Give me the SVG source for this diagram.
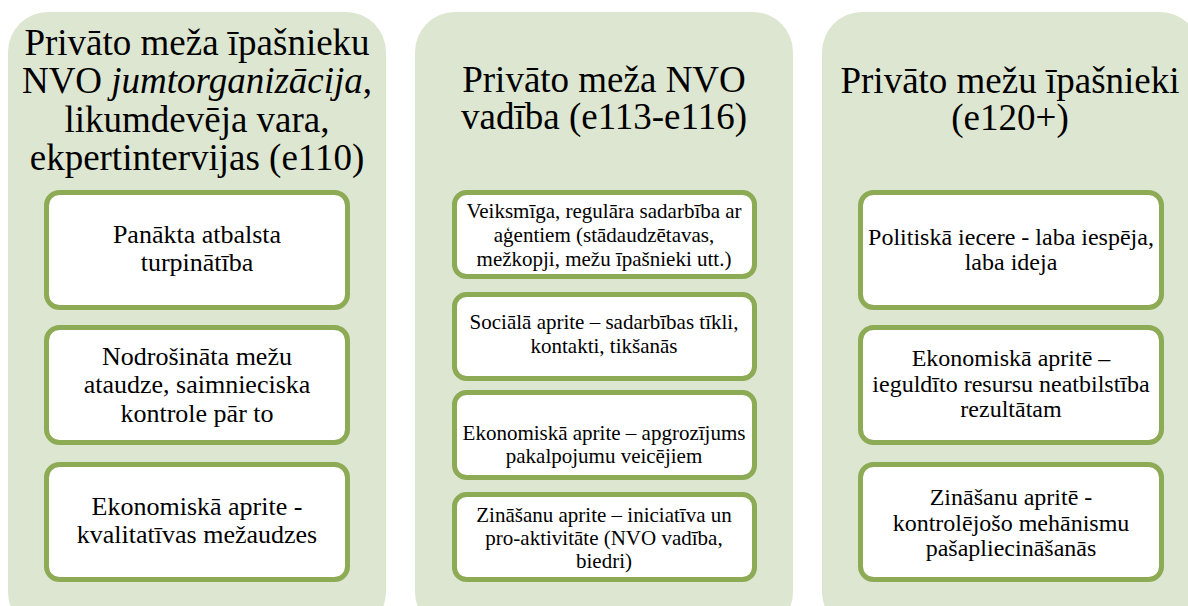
<svg xmlns="http://www.w3.org/2000/svg" width="1188" height="606" viewBox="0 0 1188 606">
<style>
.panel{fill:#DDE6D1;stroke:none}
.box{fill:#FFFFFF;stroke:#8DAA55;stroke-width:5}
.tx{fill:#000;text-anchor:middle}
.t{font-size:37px}
.b1{font-size:26px}
.b2{font-size:21px}
.b3{font-size:24px}
</style>
<rect width="1188" height="606" fill="#FFFFFF"/>
<g font-family="'Liberation Serif', 'Times New Roman', 'DejaVu Serif', serif" class="tx">
<g id="panel1">
<rect class="panel" x="8" y="12" width="378" height="620" rx="40"/>
<text class="t" x="197" y="55">Privāto meža īpašnieku</text>
<text class="t" x="197" y="93">NVO <tspan font-style="italic">jumtorganizācija</tspan>,</text>
<text class="t" x="197" y="132">likumdevēja vara,</text>
<text class="t" x="197" y="170">ekpertintervijas (e110)</text>
</g>
<g id="p1b1"><rect class="box" x="46.5" y="192.5" width="301" height="115" rx="13"/>
<text class="b1" x="197" y="243">Panākta atbalsta</text><text class="b1" x="197" y="271">turpinātība</text></g>
<g id="p1b2"><rect class="box" x="46.5" y="327.5" width="301" height="115" rx="13"/>
<text class="b1" x="197" y="365">Nodrošināta mežu</text><text class="b1" x="197" y="393">ataudze, saimnieciska</text><text class="b1" x="197" y="422">kontrole pār to</text></g>
<g id="p1b3"><rect class="box" x="46.5" y="464.5" width="301" height="115" rx="13"/>
<text class="b1" x="197" y="515">Ekonomiskā aprite -</text><text class="b1" x="197" y="543">kvalitatīvas mežaudzes</text></g>

<g id="panel2">
<rect class="panel" x="415" y="12" width="378" height="620" rx="40"/>
<text class="t" x="604" y="92">Privāto meža NVO</text>
<text class="t" x="604" y="129">vadība (e113-e116)</text>
</g>
<g id="p2b1"><rect class="box" x="454.5" y="192.5" width="300" height="84" rx="12"/>
<text class="b2" x="604" y="218">Veiksmīga, regulāra sadarbība ar</text><text class="b2" x="604" y="242">aģentiem (stādaudzētavas,</text><text class="b2" x="604" y="266">mežkopji, mežu īpašnieki utt.)</text></g>
<g id="p2b2"><rect class="box" x="454.5" y="294.5" width="300" height="84" rx="12"/>
<text class="b2" x="604" y="329">Sociālā aprite – sadarbības tīkli,</text><text class="b2" x="604" y="353">kontakti, tikšanās</text></g>
<g id="p2b3"><rect class="box" x="454.5" y="392.5" width="300" height="85" rx="12"/>
<text class="b2" x="604" y="440">Ekonomiskā aprite – apgrozījums</text><text class="b2" x="604" y="463">pakalpojumu veicējiem</text></g>
<g id="p2b4"><rect class="box" x="454.5" y="494.5" width="300" height="85" rx="12"/>
<text class="b2" x="604" y="522">Zināšanu aprite – iniciatīva un</text><text class="b2" x="604" y="545">pro-aktivitāte (NVO vadība,</text><text class="b2" x="604" y="568">biedri)</text></g>

<g id="panel3">
<rect class="panel" x="822" y="12" width="378" height="620" rx="40"/>
<text class="t" x="1010" y="93">Privāto mežu īpašnieki</text>
<text class="t" x="1010" y="130">(e120+)</text>
</g>
<g id="p3b1"><rect class="box" x="860.5" y="192.5" width="301" height="115" rx="13"/>
<text class="b3" x="1011" y="245">Politiskā iecere - laba iespēja,</text><text class="b3" x="1011" y="270">laba ideja</text></g>
<g id="p3b2"><rect class="box" x="860.5" y="327.5" width="301" height="115" rx="13"/>
<text class="b3" x="1011" y="366">Ekonomiskā apritē –</text><text class="b3" x="1011" y="392">ieguldīto resursu neatbilstība</text><text class="b3" x="1011" y="417">rezultātam</text></g>
<g id="p3b3"><rect class="box" x="860.5" y="464.5" width="301" height="115" rx="13"/>
<text class="b3" x="1011" y="505">Zināšanu apritē -</text><text class="b3" x="1011" y="531">kontrolējošo mehānismu</text><text class="b3" x="1011" y="556">pašapliecināšanās</text></g>
</g>
<g id="connectors"></g>
</svg>
